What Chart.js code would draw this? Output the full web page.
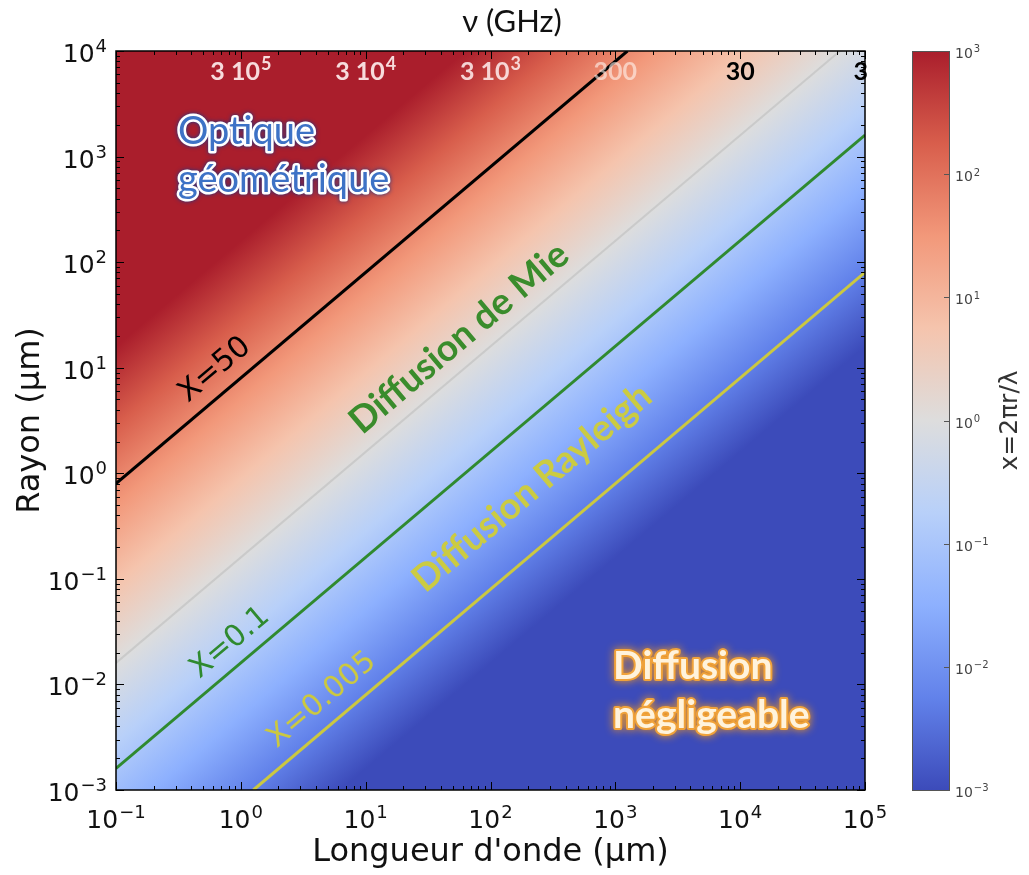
<!DOCTYPE html>
<html>
<head>
<meta charset="utf-8">
<script src="https://cdn.jsdelivr.net/npm/chart.js@4.4.1/dist/chart.umd.min.js"></script>
<style>
  html, body { margin: 0; padding: 0; background: #fff; }
  #wrap { width: 1029px; height: 875px; }
</style>
</head>
<body>
<div id="wrap"><canvas id="mieChart"></canvas></div>
<script>
// decades on each axis
var wavelengthTicks = [0.1, 1, 10, 100, 1000, 10000, 100000];
var radiusTicks = [0.001, 0.01, 0.1, 1, 10, 100, 1000, 10000];
var sizeParamTicks = [0.001, 0.01, 0.1, 1, 10, 100, 1000];

// regime boundaries as [wavelength um, radius um]
var lineX50 = [[0.1, 0.8], [1250, 10000]];
var lineX1 = [[0.1, 0.016], [63000, 10000]];
var lineX01 = [[0.1, 0.0016], [100000, 1600]];
var lineX0005 = [[1.26, 0.001], [100000, 80]];

// frequency (GHz) written along the top, and the wavelength each one sits on
var freqGHz = [300000, 30000, 3000, 300, 30, 3];
var freqWavelengths = [1, 10, 100, 1000, 10000, 100000];

// coolwarm colour map
var cmapStops = [
    [0.000, [60, 75, 186]],
    [0.125, [98, 130, 234]],
    [0.250, [141, 176, 254]],
    [0.375, [184, 208, 249]],
    [0.500, [221, 221, 221]],
    [0.625, [245, 196, 173]],
    [0.750, [242, 152, 122]],
    [0.875, [216, 94, 76]],
    [1.000, [170, 30, 44]]
];

function toPts(arr) {
    return arr.map(p => ({x: p[0], y: p[1]}));
}
function rgb(c) {
    return 'rgb(' + c[0] + ',' + c[1] + ',' + c[2] + ')';
}
function expOf(v) {
    return Math.round(Math.log10(v));
}

// size parameter x = 2*pi*r/lambda, what the colour bar shows
function radiusFor(sizeParam, lambda) {
    return sizeParam * lambda / (2 * Math.PI);
}

function isoAngle(xs, ys) {
    var a = {x: xs.getPixelForValue(1), y: ys.getPixelForValue(1)};
    var b = {x: xs.getPixelForValue(10), y: ys.getPixelForValue(10)};
    return Math.atan2(b.y - a.y, b.x - a.x);
}

function sizeParamGradient(ctx, xs, ys) {
    var cbMin = sizeParamTicks[0], cbMax = sizeParamTicks[sizeParamTicks.length - 1];
    var l0 = xs.min;
    var A = {x: xs.getPixelForValue(l0), y: ys.getPixelForValue(radiusFor(cbMax, l0))};
    var B = {x: A.x, y: ys.getPixelForValue(radiusFor(cbMin, l0))};
    var C = {x: xs.getPixelForValue(l0 * 10), y: ys.getPixelForValue(radiusFor(cbMax, l0 * 10))};
    var dx = C.x - A.x, dy = C.y - A.y, len = Math.hypot(dx, dy);
    var nx = -dy / len, ny = dx / len;
    var t = (B.x - A.x) * nx + (B.y - A.y) * ny;
    var g = ctx.createLinearGradient(A.x, A.y, A.x + t * nx, A.y + t * ny);
    cmapStops.forEach(s => g.addColorStop(1 - s[0], rgb(s[1])));
    return g;
}

// "base" followed by a raised exponent, e.g. 10^-1
function drawPow(ctx, base, exp, x, baseline, size, family, align, weight) {
    weight = weight || '';
    var supSize = Math.round(size * 0.7);
    ctx.font = weight + ' ' + size + 'px ' + family;
    var wb = ctx.measureText(base).width;
    ctx.font = weight + ' ' + supSize + 'px ' + family;
    var we = ctx.measureText(exp).width;
    var total = wb + we + 1;
    var x0 = align === 'right' ? x - total : align === 'left' ? x : x - total / 2;
    ctx.textAlign = 'left';
    ctx.textBaseline = 'alphabetic';
    ctx.font = weight + ' ' + size + 'px ' + family;
    ctx.fillText(base, x0, baseline);
    ctx.font = weight + ' ' + supSize + 'px ' + family;
    ctx.fillText(exp, x0 + wb + 1, baseline - size * 0.4);
}
function expText(v) {
    return String(expOf(v)).replace('-', '−');
}

var regionLabels = [
    {text: 'Optique', lam: 0.314, r: 1710, align: 'left', font: '38px Lato', fill: '#3d72c6', stroke: '#ffffff', strokeW: 5, glow: '#17388a', blur: 4},
    {text: 'géométrique', lam: 0.314, r: 600, align: 'left', font: '38px Lato', fill: '#3d72c6', stroke: '#ffffff', strokeW: 5, glow: '#17388a', blur: 4},
    {text: 'X=50', lam: 0.62, r: 9.5, rotate: true, font: '30px "DejaVu Sans"', fill: '#000000'},
    {text: 'Diffusion de Mie', lam: 56, r: 19.1, rotate: true, font: 'bold 37px Lato', fill: '#3a8c2c'},
    {text: 'Diffusion Rayleigh', lam: 215, r: 0.73, rotate: true, font: 'bold 37px Lato', fill: '#cbcb42'},
    {text: 'X=0.1', lam: 0.82, r: 0.0248, rotate: true, font: '30px "DejaVu Sans"', fill: '#2f8a2f'},
    {text: 'X=0.005', lam: 4.47, r: 0.0071, rotate: true, font: '30px "DejaVu Sans"', fill: '#cbc840'},
    {text: 'Diffusion', lam: 960, r: 0.0147, align: 'left', font: 'bold 39px Lato', fill: '#fff3dc', stroke: '#f0a23a', strokeW: 4, glow: '#f39a1c', blur: 8},
    {text: 'négligeable', lam: 960, r: 0.00505, align: 'left', font: 'bold 39px Lato', fill: '#fff3dc', stroke: '#f0a23a', strokeW: 4, glow: '#f39a1c', blur: 8}
];

var heatmapPlugin = {
    id: 'heatmap',
    beforeDatasetsDraw(chart) {
        var ctx = chart.ctx, a = chart.chartArea;
        ctx.save();
        ctx.beginPath();
        ctx.rect(a.left, a.top, a.right - a.left, a.bottom - a.top);
        ctx.clip();
        ctx.fillStyle = sizeParamGradient(ctx, chart.scales.x, chart.scales.y);
        ctx.fillRect(a.left, a.top, a.right - a.left, a.bottom - a.top);
        ctx.restore();
    }
};

function drawTicksInside(ctx, scale, a, horizontal) {
    var lo = Math.floor(Math.log10(scale.min)), hi = Math.ceil(Math.log10(scale.max));
    for (var k = lo; k <= hi; k++) {
        for (var m = 1; m <= 9; m++) {
            var v = m * Math.pow(10, k);
            if (v < scale.min * 0.999 || v > scale.max * 1.001) continue;
            var p = Math.round(scale.getPixelForValue(v)) + 0.5;
            var len = m === 1 ? 8 : 4;
            ctx.beginPath();
            if (horizontal) {
                ctx.moveTo(p, a.bottom); ctx.lineTo(p, a.bottom - len);
                ctx.moveTo(p, a.top); ctx.lineTo(p, a.top + len);
            } else {
                ctx.moveTo(a.left, p); ctx.lineTo(a.left + len, p);
                ctx.moveTo(a.right, p); ctx.lineTo(a.right - len, p);
            }
            ctx.stroke();
        }
    }
}

var overlayPlugin = {
    id: 'overlay',
    afterDatasetsDraw(chart) {
        var ctx = chart.ctx, a = chart.chartArea, xs = chart.scales.x, ys = chart.scales.y, cb = chart.scales.cb;
        var ang = isoAngle(xs, ys);

        // region / line labels
        regionLabels.forEach(L => {
            ctx.save();
            ctx.translate(xs.getPixelForValue(L.lam), ys.getPixelForValue(L.r));
            if (L.rotate) ctx.rotate(ang);
            ctx.font = L.font;
            ctx.textAlign = L.align || 'center';
            ctx.textBaseline = 'middle';
            ctx.lineJoin = 'round';
            if (L.stroke) {
                ctx.shadowColor = L.glow;
                ctx.shadowBlur = L.blur;
                ctx.strokeStyle = L.stroke;
                ctx.lineWidth = L.strokeW;
                ctx.strokeText(L.text, 0, 0);
                ctx.shadowBlur = 0;
            }
            ctx.fillStyle = L.fill;
            ctx.fillText(L.text, 0, 0);
            ctx.restore();
        });

        // frequency labels along the top
        var freqColors = ['rgba(255,240,240,0.9)', 'rgba(255,240,240,0.9)', 'rgba(255,240,240,0.85)', 'rgba(255,245,240,0.6)', '#000', '#000'];
        ctx.save();
        freqGHz.forEach((f, i) => {
            var px = xs.getPixelForValue(freqWavelengths[i]);
            var last = i === freqGHz.length - 1;
            ctx.fillStyle = freqColors[i];
            if (f >= 1000) {
                var e = expOf(f / 3);
                drawPow(ctx, '3 10', String(e), px, a.top + 29, 25, 'Lato', 'center', 'bold');
            } else {
                ctx.font = 'bold 25px Lato';
                ctx.textBaseline = 'alphabetic';
                ctx.textAlign = last ? 'right' : 'center';
                ctx.fillText(String(f), last ? px + 3 : px, a.top + 29);
            }
        });
        ctx.restore();

        // inside ticks and frame
        ctx.save();
        ctx.strokeStyle = '#000';
        ctx.lineWidth = 1;
        drawTicksInside(ctx, xs, a, true);
        drawTicksInside(ctx, ys, a, false);
        ctx.lineWidth = 1.5;
        ctx.strokeRect(a.left, a.top, a.right - a.left, a.bottom - a.top);
        ctx.restore();

        // tick labels with raised exponents
        ctx.save();
        ctx.fillStyle = '#111';
        xs.ticks.forEach(t => {
            drawPow(ctx, '10', expText(t.value), xs.getPixelForValue(t.value), a.bottom + 38, 25, '"DejaVu Sans"', 'center');
        });
        ys.ticks.forEach(t => {
            drawPow(ctx, '10', expText(t.value), a.left - 9, ys.getPixelForValue(t.value) + 11, 25, '"DejaVu Sans"', 'right');
        });
        ctx.restore();

        // colour bar
        var top = cb.getPixelForValue(cb.max), bot = cb.getPixelForValue(cb.min);
        var bx = cb.left + 47, bw = 37;
        ctx.save();
        var g = ctx.createLinearGradient(0, top, 0, bot);
        cmapStops.forEach(s => g.addColorStop(1 - s[0], rgb(s[1])));
        ctx.fillStyle = g;
        ctx.fillRect(bx, top, bw, bot - top);
        ctx.strokeStyle = '#555';
        ctx.lineWidth = 1;
        cb.ticks.forEach(t => {
            var p = Math.round(cb.getPixelForValue(t.value)) + 0.5;
            ctx.beginPath();
            ctx.moveTo(bx + bw, p); ctx.lineTo(bx + bw - 5, p);
            ctx.stroke();
        });
        ctx.strokeRect(bx + 0.5, top + 0.5, bw, bot - top);
        ctx.fillStyle = '#444';
        cb.ticks.forEach(t => {
            drawPow(ctx, '10', expText(t.value), bx + bw + 6, cb.getPixelForValue(t.value) + 7, 14, '"DejaVu Sans"', 'left');
        });
        // colour bar title
        ctx.translate(cb.left + 145, (top + bot) / 2);
        ctx.rotate(-Math.PI / 2);
        ctx.font = '25px "DejaVu Sans"';
        ctx.fillStyle = '#333';
        ctx.textAlign = 'center';
        ctx.textBaseline = 'middle';
        ctx.fillText('x=2πr/λ', 0, 0);
        ctx.restore();

        // top title
        ctx.save();
        ctx.font = '31px Lato';
        ctx.fillStyle = '#111';
        ctx.textAlign = 'center';
        ctx.textBaseline = 'middle';
        ctx.fillText('ν (GHz)', 512, 22);
        ctx.restore();
    }
};

var ctx = document.getElementById('mieChart').getContext('2d');
var mieChart = new Chart(ctx, {
    type: 'line',
    data: {
        datasets: [{
            label: 'X=50',
            data: toPts(lineX50),
            borderColor: '#000000',
            borderWidth: 3
        }, {
            label: 'X=1',
            data: toPts(lineX1),
            borderColor: 'rgba(200,200,200,0.9)',
            borderWidth: 2
        }, {
            label: 'X=0.1',
            data: toPts(lineX01),
            borderColor: '#2f8a2f',
            borderWidth: 3
        }, {
            label: 'X=0.005',
            data: toPts(lineX0005),
            borderColor: '#cbc840',
            borderWidth: 3
        }]
    },
    options: {
        responsive: true,
        maintainAspectRatio: false,
        animation: false,
        layout: {padding: {top: 51, left: 0, right: 0, bottom: 0}},
        elements: {point: {radius: 0}, line: {tension: 0}},
        plugins: {legend: {display: false}, tooltip: {enabled: false}},
        scales: {
            x: {
                type: 'logarithmic',
                position: 'bottom',
                min: 0.1,
                max: 100000,
                afterBuildTicks: s => { s.ticks = wavelengthTicks.map(v => ({value: v})); },
                afterFit: s => { s.height = 85; },
                grid: {display: false, drawTicks: false},
                border: {display: false},
                ticks: {display: false, autoSkip: false},
                title: {
                    display: true,
                    text: "Longueur d'onde (μm)",
                    font: {family: 'DejaVu Sans', size: 32},
                    color: '#111',
                    padding: {top: 0, bottom: 3}
                }
            },
            y: {
                type: 'logarithmic',
                position: 'left',
                min: 0.001,
                max: 10000,
                afterBuildTicks: s => { s.ticks = radiusTicks.map(v => ({value: v})); },
                afterFit: s => { s.width = 116; },
                grid: {display: false, drawTicks: false},
                border: {display: false},
                ticks: {display: false, autoSkip: false},
                title: {
                    display: true,
                    text: 'Rayon (μm)',
                    font: {family: 'DejaVu Sans', size: 32},
                    color: '#111',
                    padding: {top: 11, bottom: 0}
                }
            },
            cb: {
                type: 'logarithmic',
                position: 'right',
                min: 0.001,
                max: 1000,
                afterBuildTicks: s => { s.ticks = sizeParamTicks.map(v => ({value: v})); },
                afterFit: s => {
                    s.width = 164;
                    s.paddingTop = 0;
                    s.paddingBottom = 0;
                },
                grid: {display: false, drawTicks: false},
                border: {display: false},
                ticks: {display: false, autoSkip: false}
            }
        }
    },
    plugins: [heatmapPlugin, overlayPlugin]
});
</script>
</body>
</html>
